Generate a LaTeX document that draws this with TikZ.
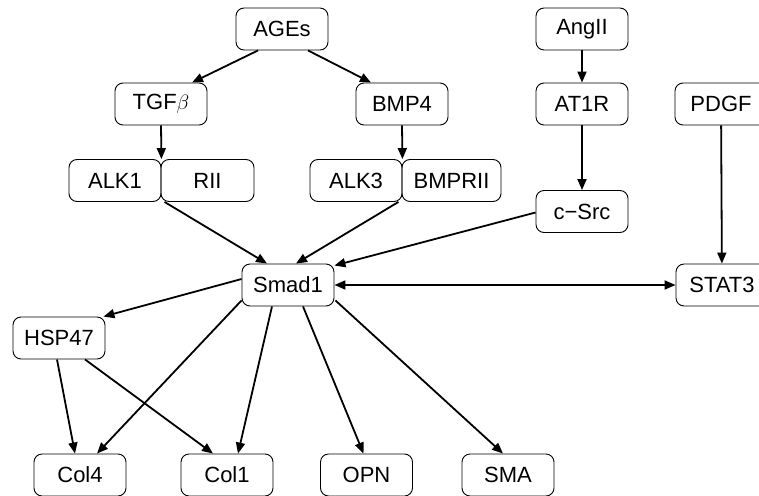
\documentclass[tikz,border=0pt]{standalone}
\usepackage{fontspec}
\setmainfont{Liberation Sans}
\usetikzlibrary{arrows.meta,calc}
\begin{document}
\begin{tikzpicture}[x=1pt,y=-1pt,
  box/.style={draw,line width=0.9pt,rounded corners=8pt,minimum width=92pt,minimum height=42pt,inner sep=0pt,font=\fontsize{22}{26}\selectfont},
  arr/.style={line width=1.8pt,-{Triangle[length=11pt,width=9pt]}},
  darr/.style={line width=1.8pt,{Triangle[length=11pt,width=9pt]}-{Triangle[length=11pt,width=9pt]}}]
\clip (0,0) rectangle (759,495);
\useasboundingbox (0,0) rectangle (759,495);
\node[box] (AGEs) at (282,29) {AGEs};
\node[box] (TGF) at (161,104) {TGF$\beta$};
\node[box] (BMP4) at (402,104) {BMP4};
\node[box] (AngII) at (582,29) {AngII};
\node[box] (AT1R) at (582,104) {AT1R};
\node[box] (PDGF) at (721,104) {PDGF};
\node[box] (ALK1) at (115,180.5) {ALK1};
\node[box,minimum width=93pt] (RII) at (207.5,180.5) {RII};
\node[box] (ALK3) at (356,180.5) {ALK3};
\node[box,minimum width=99pt] (BMPRII) at (451.5,180.5) {BMPRII};
\node[box] (cSrc) at (582,211.5) {c−Src};
\node[box] (Smad1) at (288,285) {Smad1};
\node[box] (STAT3) at (722,285) {STAT3};
\node[box] (HSP47) at (59,338) {HSP47};
\node[box] (Col4) at (80,475) {Col4};
\node[box] (Col1) at (227,475) {Col1};
\node[box] (OPN) at (366.5,475) {OPN};
\node[box] (SMA) at (508,475) {SMA};
% edges
\draw[arr] ($(AGEs.south)+(-24,0)$) -- ($(TGF.north)+(31,0)$);
\draw[arr] ($(AGEs.south)+(26,0)$) -- ($(BMP4.north)+(-31,0)$);
\draw[arr] (TGF.south) -- (ALK1.north east);
\draw[arr] (BMP4.south) -- (ALK3.north east);
\draw[arr] (AngII) -- (AT1R);
\draw[arr] (AT1R) -- (cSrc);
\draw[arr] (PDGF) -- (STAT3);
\draw[arr] ($(RII.south west)+(4,0)$) -- ($(Smad1.north)+(-21,0)$);
\draw[arr] ($(ALK3.south east)+(-4,0)$) -- ($(Smad1.north)+(8,0)$);
\draw[arr] ($(cSrc.west)+(0,1)$) -- ($(Smad1.north east)+(0,2)$);
\draw[darr] (Smad1) -- (STAT3);
\draw[arr] ($(Smad1.west)+(0,-6)$) -- ($(HSP47.north east)+(-2,0)$);
\draw[arr] ($(Smad1.south west)+(0,-6)$) -- ($(Col4.north)+(17,0)$);
\draw[arr] ($(Smad1.south)+(-16,0)$) -- ($(Col1.north)+(11,0)$);
\draw[arr] ($(Smad1.south)+(15,0)$) -- ($(OPN.north)+(-3,0)$);
\draw[arr] ($(Smad1.south east)+(1,-6)$) -- ($(SMA.north)+(-5,0)$);
\draw[arr] ($(HSP47.south)+(-2,0)$) -- ($(Col4.north)+(-5,0)$);
\draw[arr] ($(HSP47.south)+(26,0)$) -- ($(Col1.north)+(-14,0)$);
\end{tikzpicture}
\end{document}
